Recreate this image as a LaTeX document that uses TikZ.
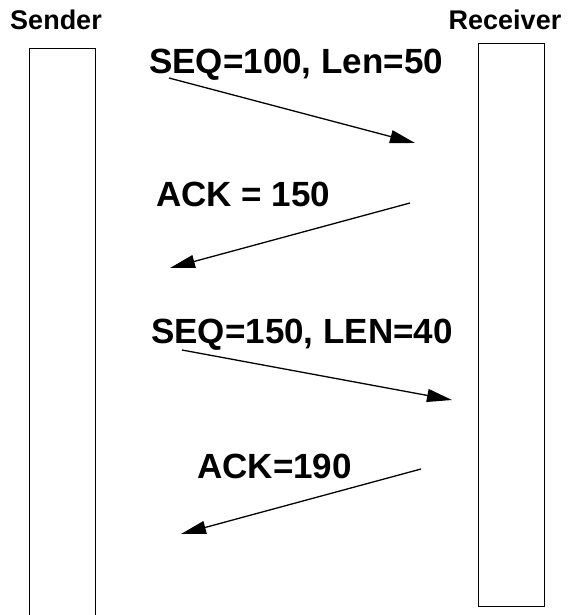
\documentclass[tikz,border=0pt]{standalone}
\usepackage{fontspec}
\setmainfont{Liberation Sans}
\usetikzlibrary{arrows.meta}
\begin{document}
\begin{tikzpicture}[x=1pt,y=-1pt,
  lifebox/.style={draw=black,line width=0.9pt,fill=none},
  msg/.style={draw=black,line width=1.3pt,-{Triangle[length=25pt,width=13pt]}},
  head/.style={font=\fontsize{27}{29}\selectfont\bfseries,inner sep=0pt,anchor=base},
  lbl/.style={font=\fontsize{35}{37}\selectfont\bfseries,inner sep=0pt,anchor=base west}]
\useasboundingbox (0,0) rectangle (578,615);
% lifeline boxes
\draw[lifebox] (29,640) -- (29,48) -- (95,48) -- (95,640);
\draw[lifebox] (478,43) rectangle (544,606);
% headings
\node[head] (snd) at (56,30) {Sender};
\node[head] (rcv) at (505,30) {Receiver};
% labels
\node[lbl] (l1) at (149,74) {SEQ=100, Len=50};
\node[lbl] (l2) at (156,206) {ACK = 150};
\node[lbl] (l3) at (151,343) {SEQ=150, LEN=40};
\node[lbl] (l4) at (197,478) {ACK=190};
% arrow end points
\coordinate (a1s) at (169,78);  \coordinate (a1e) at (415,143);
\coordinate (a2s) at (410,203); \coordinate (a2e) at (170,268);
\coordinate (a3s) at (182,350); \coordinate (a3e) at (452,400);
\coordinate (a4s) at (421,469); \coordinate (a4e) at (181,534);
\draw[msg] (a1s) -- (a1e);
\draw[msg] (a2s) -- (a2e);
\draw[msg] (a3s) -- (a3e);
\draw[msg] (a4s) -- (a4e);
\end{tikzpicture}
\end{document}
